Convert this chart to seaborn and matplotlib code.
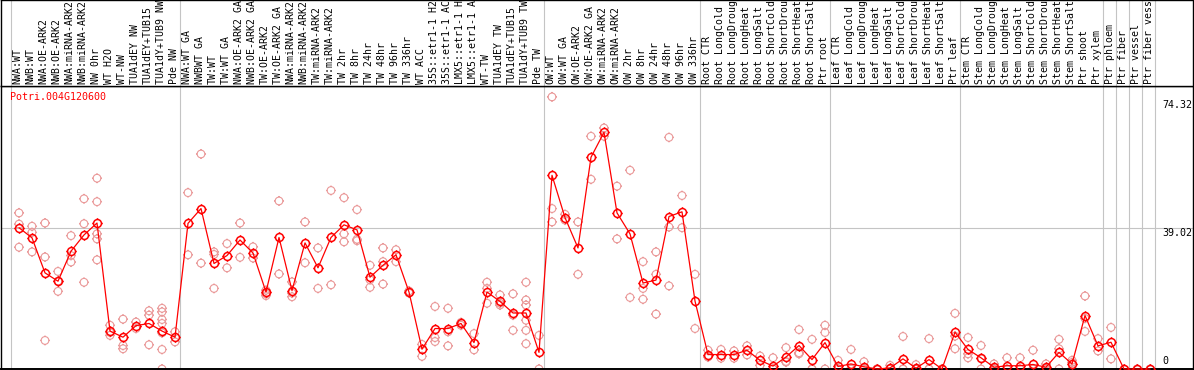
import numpy as np
import pandas as pd
import matplotlib
matplotlib.use("Agg")
import matplotlib.pyplot as plt
import matplotlib.transforms as mtrans
from matplotlib.path import Path
import seaborn as sns

gene = "Potri.004G120600"

categories = [
    "NWA:WT", "NWB:WT", "NWA:OE-ARK2", "NWB:OE-ARK2", "NWA:miRNA-ARK2", "NWB:miRNA-ARK2",
    "NW 0hr", "WT H2O", "WT-NW", "TUA1dEY NW", "TUA1dEY+TUB15 NW", "TUA1dY+TUB9 NW", "Pde NW",
    "NWA:WT GA", "NWBWT GA", "TW:WT", "TW:WT GA", "NWA:OE-ARK2 GA", "NWB:OE-ARK2 GA",
    "TW:OE-ARK2", "TW:OE-ARK2 GA", "NWA:miRNA-ARK2 GA", "NWB:miRNA-ARK2 GA", "TW:miRNA-ARK2",
    "TW:miRNA-ARK2 GA", "TW 2hr", "TW 8hr", "TW 24hr", "TW 48hr", "TW 96hr", "TW 336hr",
    "WT ACC", "35S::etr1-1 H2O", "35S::etr1-1 ACC", "LMX5::etr1-1 H2O", "LMX5::etr1-1 ACC",
    "WT-TW", "TUA1dEY TW", "TUA1dEY+TUB15 TW", "TUA1dY+TUB9 TW", "Pde TW",
    "OW:WT", "OW:WT GA", "OW:OE-ARK2", "OW:OE-ARK2 GA", "OW:miRNA-ARK2", "OW:miRNA-ARK2 GA",
    "OW 2hr", "OW 8hr", "OW 24hr", "OW 48hr", "OW 96hr", "OW 336hr",
    "Root CTR", "Root LongCold", "Root LongDrought", "Root LongHeat", "Root LongSalt",
    "Root ShortCold", "Root ShortDrought", "Root ShortHeat", "Root ShortSalt", "Ptr root",
    "Leaf CTR", "Leaf LongCold", "Leaf LongDrought", "Leaf LongHeat", "Leaf LongSalt",
    "Leaf ShortCold", "Leaf ShortDrought", "Leaf ShortHeat", "Leaf ShortSalt", "Ptr leaf",
    "Stem CTR", "Stem LongCold", "Stem LongDrought", "Stem LongHeat", "Stem LongSalt",
    "Stem ShortCold", "Stem ShortDrought", "Stem ShortHeat", "Stem ShortSalt", "Ptr shoot",
    "Ptr xylem", "Ptr phloem", "Ptr fiber", "Ptr vessel", "Ptr fiber vessel",
]

means = [
    39.1, 36.3, 26.6, 24.3, 32.6, 37.1, 40.4, 10.5, 8.8, 12.0, 12.6, 10.5, 8.8,
    40.3, 44.4, 29.2, 31.4, 35.7, 32.1, 21.3, 36.4, 21.7, 34.9, 28.0, 36.4, 39.9, 38.5,
    25.4, 28.7, 31.6, 21.3, 5.5, 11.2, 11.2, 12.6, 7.3, 21.3, 18.7, 15.5, 15.5, 4.6,
    53.6, 41.9, 33.5, 58.6, 65.5, 43.2, 37.4, 23.8, 24.6, 42.2, 43.5, 18.8,
    4.0, 4.0, 4.0, 5.2, 2.4, 0.8, 3.3, 6.5, 2.6, 7.3,
    0.7, 1.4, 0.6, 0.0, 0.3, 2.8, 0.2, 2.6, 0.0, 10.2,
    5.4, 3.1, 0.5, 0.9, 0.9, 1.25, 0.5, 4.6, 1.4, 14.8,
    6.4, 7.4, 0.0, 0.0, 0.0,
]

replicates = [
    [43.2, 40.1, 33.7], [39.5, 37.8, 32.4], [40.4, 31.0, 7.9], [27.0, 24.3, 21.5],
    [36.9, 31.4, 29.6], [47.1, 40.2, 24.0], [52.8, 46.3, 37.4, 36.0, 30.2],
    [12.1, 10.1, 9.3], [13.8, 6.5, 5.6], [13.0, 11.2], [16.1, 14.9, 6.7],
    [16.8, 15.8, 13.7, 12.6, 10.0, 5.4, 0.0], [10.3, 7.5],
    [48.8, 31.6], [59.5, 29.3], [32.4, 31.7, 22.3], [34.7, 28.0], [40.4, 30.9],
    [33.8, 30.7], [21.8, 20.8, 20.3], [46.5, 26.3], [24.1, 21.0, 20.0], [40.7, 29.4],
    [33.5, 22.3], [49.4, 23.3], [47.4, 37.4, 35.2], [44.1, 35.9, 35.5],
    [28.7, 24.7, 22.6], [33.5, 29.7, 23.5], [33.0, 29.7], [21.6, 21.0], [6.8, 3.5],
    [17.3, 8.7, 7.6], [16.8, 10.3, 6.4], [12.9, 12.1], [9.8, 5.3], [24.0, 22.3, 18.2],
    [20.5, 18.2, 17.7], [20.8, 14.9, 10.7], [24.0, 19.1, 17.7, 13.5, 10.7, 7.0],
    [9.3, 0.0],
    [75.3, 44.4, 40.7], [42.8, 41.2], [40.7, 26.2], [64.4, 52.5], [66.7, 64.4],
    [50.6, 36.0], [55.0, 19.8], [29.7, 22.3, 19.3], [32.4, 26.2, 15.2],
    [64.1, 39.3, 23.0], [48.0, 39.1], [26.2, 11.2],
    [5.2, 3.5, 3.3], [5.4, 3.0], [5.0, 3.0], [6.4, 3.9], [3.6, 1.0], [3.1, 0.0, 0.0],
    [5.9, 2.1, 1.9], [10.9, 4.5, 4.2], [8.2, 0.0, 0.0], [12.1, 10.1, 0.0],
    [2.4, 0.0, 0.0], [5.4, 0.0, 0.0, 0.0], [2.0, 0.0, 0.0], [0.0, 0.0, 0.0],
    [1.0, 0.0, 0.0], [9.0, 0.0, 0.0], [1.2, 0.0, 0.0], [8.4, 0.0, 0.0],
    [0.0, 0.0, 0.0], [15.4, 9.1, 5.6],
    [8.7, 4.2, 3.1], [6.5, 2.9, 0.0], [1.4, 0.0, 0.0], [3.1, 0.0, 0.0], [3.1, 0.0, 0.0],
    [5.2, 0.0, 0.0], [1.4, 0.0, 0.0], [8.2, 5.6, 0.0], [2.4, 1.8, 0.0],
    [20.2, 14.0, 10.4], [8.4, 5.0], [11.5, 2.8], [0.0], [0.0], [0.0],
]

# group separators: index of first category of each group (plus end)
group_starts = [0, 13, 41, 53, 63, 73, 84, 85, 86, 87, 88]
axis_labels = ["74.32", "39.02", "0"]
axis_values = [74.32, 39.02, 0.0]
header_chars = 14   # the header only has room for this many characters

# ---------------------------------------------------------------
sns.set_theme(style="white")
plt.rcParams["font.family"] = ["DejaVu Sans Mono", "DejaVu Sans"]

W, H = 1194, 370
fig = plt.figure(figsize=(W / 100, H / 100), dpi=100)

left_px, right_px, top_px, bot_px = 1, 1193, 86, 369
ax = fig.add_axes([left_px / W, (H - bot_px) / H, (right_px - left_px) / W,
                   (bot_px - top_px) / H])
hax = fig.add_axes([left_px / W, (H - top_px) / H, (right_px - left_px) / W,
                    top_px / H], sharex=ax)

pos = np.arange(len(categories))
x0 = -18.0 / 13.0
x1 = x0 + (right_px - left_px) / 13.0

# marker: ring with four little ticks
t = 1.3
ticks = Path([(0, 1), (0, t), (0, -1), (0, -t), (1, 0), (t, 0), (-1, 0), (-t, 0)],
             [Path.MOVETO, Path.LINETO] * 4)
ring = Path.make_compound_path(Path.unit_circle(), ticks)

grid_c = "#C4C4C4"
for g in group_starts:
    ax.axvline(g - 0.65, color=grid_c, lw=0.8, zorder=0)
    hax.axvline(g - 0.65, color=grid_c, lw=0.8, zorder=0)
ax.axhline(39.02, color=grid_c, lw=0.8, zorder=0)

rep_df = pd.DataFrame({
    "pos": np.concatenate([[i] * len(r) for i, r in enumerate(replicates)]),
    "value": np.concatenate(replicates),
})
sns.scatterplot(data=rep_df, x="pos", y="value", ax=ax, marker=ring, s=52,
                facecolor="none", edgecolor="#EA9999", linewidth=0.8,
                zorder=2, clip_on=False)

mean_df = pd.DataFrame({"pos": pos, "value": means})
sns.lineplot(data=mean_df, x="pos", y="value", ax=ax, color="#FF0000", lw=0.9,
             marker=ring, markersize=7.4, markerfacecolor="none",
             markeredgecolor="#FF0000", markeredgewidth=1.1,
             estimator=None, sort=False, zorder=3, clip_on=False)

ax.set_xlim(x0, x1)
ax.set_ylim(0, (bot_px - top_px) / (141 / 39.02))
ax.set_xticks([])
ax.set_yticks([])
ax.set_xlabel("")
ax.set_ylabel("")
for s in ax.spines.values():
    s.set_color("black")
    s.set_linewidth(1.0)
ax.spines["bottom"].set_linewidth(1.4)

hax.set_ylim(0, 1)
hax.set_yticks([])
hax.tick_params(bottom=False, labelbottom=False)
for s in hax.spines.values():
    s.set_color("black")
    s.set_linewidth(1.0)

for i, lab in enumerate(categories):
    shown = lab[:header_chars].rstrip()
    hax.text(i - 0.1, 0.02, shown, rotation=90, ha="center", va="bottom",
             fontsize=7.1, color="black", clip_on=True)

ax.text(9 / (right_px - left_px), 1 - 11 / (bot_px - top_px), gene,
        transform=ax.transAxes, color="#FF0000", fontsize=7.2,
        ha="left", va="center")

blend = mtrans.blended_transform_factory(ax.transAxes, ax.transData)
xl = (1162 - left_px) / (right_px - left_px)
for lab, v in zip(axis_labels, axis_values):
    if v > 0:
        ax.text(xl, v, lab, transform=blend, fontsize=7.2, color="black",
                ha="left", va="top")
    else:
        ax.text(xl, v + 0.8, lab, transform=blend, fontsize=7.2, color="black",
                ha="left", va="bottom")

fig.savefig("out.png", dpi=100)
